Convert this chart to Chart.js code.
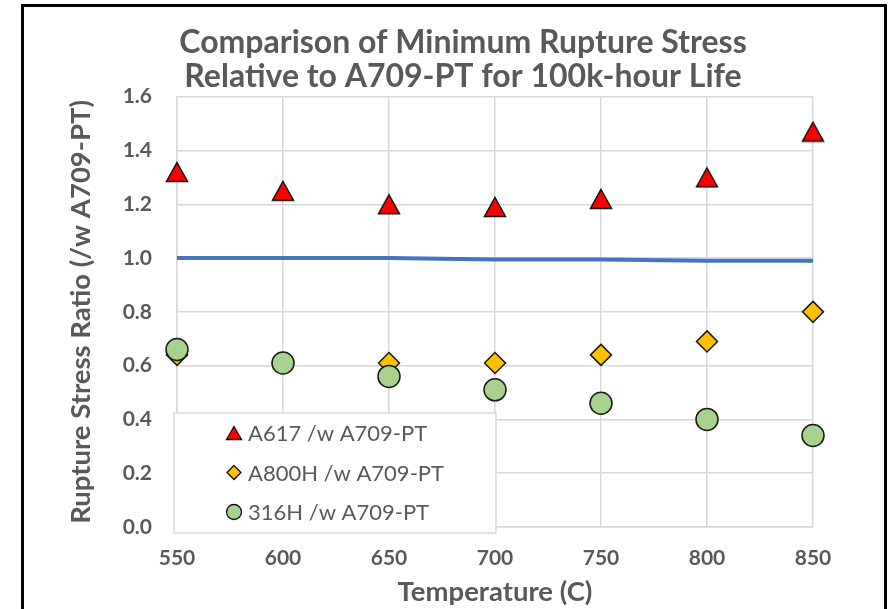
<!DOCTYPE html>
<html><head><meta charset="utf-8">
<script src="https://cdn.jsdelivr.net/npm/chart.js@4.4.0/dist/chart.umd.min.js"></script>
<style>
html,body{margin:0;padding:0;background:#fff;width:894px;height:609px;overflow:hidden;}
#frame{position:absolute;left:21px;top:4px;width:866px;height:700px;border:3px solid #000;box-sizing:border-box;}
#wrap{position:absolute;left:0;top:0;width:894px;height:609px;}
</style></head><body>
<div id="frame"></div>
<div id="wrap"><canvas id="c" width="894" height="609"></canvas></div>
<script>
// ---- data ----
const temperatures = [550, 600, 650, 700, 750, 800, 850];
const a617Ratio  = [1.32, 1.25, 1.20, 1.19, 1.22, 1.30, 1.47];
const a800hRatio = [0.64, 0.61, 0.61, 0.61, 0.64, 0.69, 0.80];
const h316Ratio  = [0.66, 0.61, 0.56, 0.51, 0.46, 0.40, 0.34];
const a709Ratio  = [1.00, 1.00, 1.00, 0.995, 0.995, 0.99, 0.99];
const seriesNames = ['A617 /w A709-PT', 'A800H /w A709-PT', '316H /w A709-PT'];
const titleLines = ['Comparison of Minimum Rupture Stress', 'Relative to A709-PT for 100k-hour Life'];
const xAxisTitle = 'Temperature (C)';
const yAxisTitle = 'Rupture Stress Ratio (/w A709-PT)';
const xTickValues = [550, 600, 650, 700, 750, 800, 850];
const yTickValues = [0.0, 0.2, 0.4, 0.6, 0.8, 1.0, 1.2, 1.4, 1.6];

const pts = (ys) => temperatures.map((t, i) => ({x: t, y: ys[i]}));
const TEXT = '#595959';
const FONT = 'Lato, "Open Sans", sans-serif';

function triangleImage(w, h, lw) {
  const c = document.createElement('canvas');
  c.width = Math.ceil(w + lw * 2); c.height = Math.ceil(h + lw * 2);
  const g = c.getContext('2d');
  const ox = (c.width - w) / 2, oy = (c.height - h) / 2;
  g.beginPath();
  g.moveTo(ox + w / 2, oy); g.lineTo(ox + w, oy + h); g.lineTo(ox, oy + h); g.closePath();
  g.fillStyle = '#FF0000'; g.fill();
  g.lineWidth = lw; g.strokeStyle = '#111'; g.lineJoin = 'miter'; g.stroke();
  return c;
}
const triBig = triangleImage(21, 19, 1.5);
const triSmall = triangleImage(15, 13, 1.3);

const boxLegend = {
  id: 'boxLegend',
  afterDatasetsDraw(chart, args, o) {
    const ctx = chart.ctx;
    ctx.save();
    ctx.fillStyle = '#fff';
    ctx.fillRect(o.left, o.top, o.width, o.height);
    ctx.strokeStyle = '#d9d9d9'; ctx.lineWidth = 1.5;
    ctx.strokeRect(o.left, o.top, o.width, o.height);
    const items = chart.data.datasets.filter(d => d.legendIndex !== undefined)
      .sort((a, b) => a.legendIndex - b.legendIndex);
    items.forEach((d, i) => {
      const cy = o.top + o.firstRow + i * o.rowGap;
      const mx = o.left + o.markerX;
      ctx.lineWidth = 1.3; ctx.strokeStyle = '#111';
      if (d.legendMarker === 'tri') {
        ctx.drawImage(triSmall, mx - triSmall.width / 2, cy - triSmall.height / 2);
      } else if (d.legendMarker === 'diamond') {
        ctx.beginPath();
        ctx.moveTo(mx, cy - 7); ctx.lineTo(mx + 7, cy); ctx.lineTo(mx, cy + 7); ctx.lineTo(mx - 7, cy); ctx.closePath();
        ctx.fillStyle = d.backgroundColor; ctx.fill(); ctx.stroke();
      } else {
        ctx.beginPath(); ctx.arc(mx, cy, 7.5, 0, Math.PI * 2);
        ctx.fillStyle = d.backgroundColor; ctx.fill(); ctx.stroke();
      }
      ctx.fillStyle = TEXT; ctx.font = '22px ' + FONT;
      ctx.textBaseline = 'middle'; ctx.textAlign = 'left';
      ctx.fillText(d.label, o.left + o.textX, cy + 1);
    });
    ctx.restore();
  }
};

new Chart(document.getElementById('c'), {
  type: 'scatter',
  data: {
    datasets: [
      { label: seriesNames[2], data: pts(h316Ratio), legendIndex: 2, legendMarker: 'circle',
        pointStyle: 'circle', pointRadius: 11, pointHoverRadius: 11,
        backgroundColor: '#A9D18E', borderColor: '#1a1a1a', borderWidth: 1.5, order: 0, clip: false },
      { label: seriesNames[1], data: pts(a800hRatio), legendIndex: 1, legendMarker: 'diamond',
        pointStyle: 'rectRot', pointRadius: 10.5, pointHoverRadius: 10.5,
        backgroundColor: '#FFC000', borderColor: '#1a1a1a', borderWidth: 1.5, order: 1, clip: false },
      { label: seriesNames[0], data: pts(a617Ratio), legendIndex: 0, legendMarker: 'tri',
        pointStyle: triBig, pointRadius: 11, backgroundColor: '#FF0000', order: 2, clip: false },
      { label: 'A709-PT', data: pts(a709Ratio), showLine: true,
        borderColor: '#4472C4', borderWidth: 4, pointRadius: 0, pointHoverRadius: 0,
        backgroundColor: '#4472C4', order: 3, clip: false }
    ]
  },
  options: {
    responsive: false, animation: false, devicePixelRatio: 1,
    layout: { padding: { left: 0, right: -32, top: 0, bottom: 0 } },
    plugins: {
      legend: { display: false }, tooltip: { enabled: false },
      title: { display: true, text: titleLines, color: TEXT,
        font: { family: FONT, size: 32, weight: 'bold', lineHeight: '34px' },
        padding: { top: 26, bottom: 2.7 } },
      boxLegend: { left: 174, top: 413, width: 322, height: 120, firstRow: 20, rowGap: 39.5, markerX: 60, textX: 74 }
    },
    scales: {
      x: { type: 'linear', min: 550, max: 850,
        afterBuildTicks: (s) => { s.ticks = xTickValues.map(v => ({value: v})); },
        afterFit: (s) => { s.height = 82; s.paddingRight = 81; s.paddingLeft = 0; },
        grid: { color: '#d9d9d9', lineWidth: 1.5, drawTicks: false },
        border: { display: true, color: '#d9d9d9', width: 1.5 },
        ticks: { color: TEXT, font: { family: FONT, size: 21, weight: 'bold' }, padding: 19, maxRotation: 0 },
        title: { display: true, text: xAxisTitle, color: TEXT,
          font: { family: FONT, size: 27.5, weight: 'bold', lineHeight: '33px' }, padding: { top: 0, bottom: 0.5 } } },
      y: { type: 'linear', min: 0, max: 1.6,
        afterBuildTicks: (s) => { s.ticks = yTickValues.map(v => ({value: v})); },
        afterFit: (s) => { s.width = 177; },
        grid: { color: '#d9d9d9', lineWidth: 1.5, drawTicks: false },
        border: { display: true, color: '#d9d9d9', width: 1.5 },
        ticks: { color: TEXT, font: { family: FONT, size: 21, weight: 'bold' }, padding: 25,
          callback: (v) => Number(v).toFixed(1) },
        title: { display: true, text: yAxisTitle, color: TEXT,
          font: { family: FONT, size: 27.5, weight: 'bold', lineHeight: '33px' }, padding: { top: 64.5, bottom: 0 } } }
    }
  },
  plugins: [boxLegend]
});
</script>
</body></html>
